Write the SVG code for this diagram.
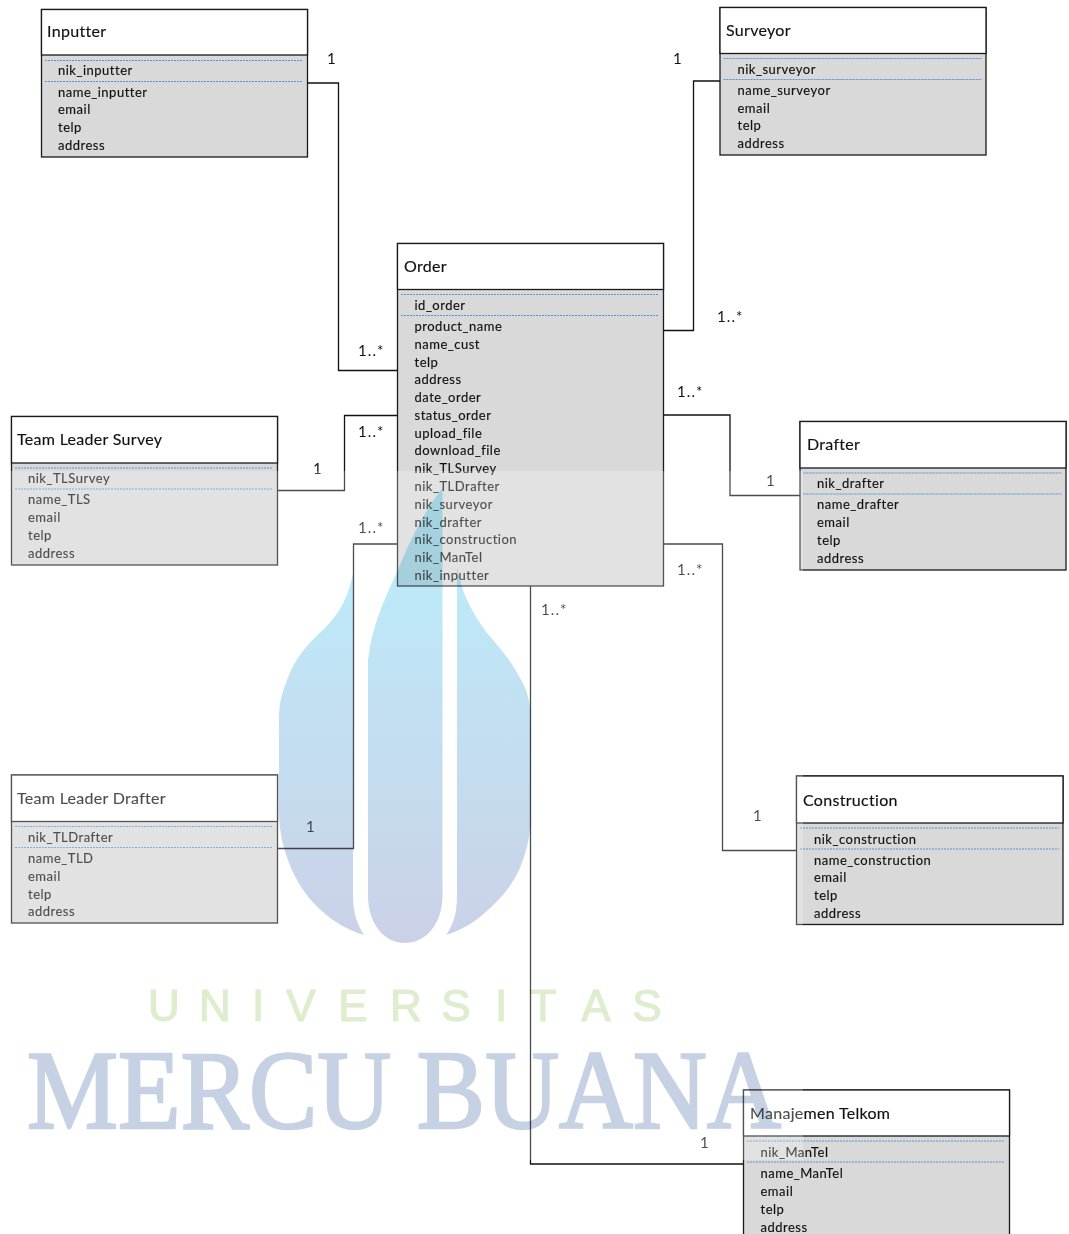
<svg xmlns="http://www.w3.org/2000/svg" width="1069" height="1234" viewBox="0 0 1069 1234">
<style>
text{font-family:"Lato","Liberation Sans",sans-serif;fill:#111}
.t{font-size:16px;letter-spacing:.3px;stroke:#111;stroke-width:.15px}
.f{font-size:13px;letter-spacing:.5px;stroke:#111;stroke-width:.15px}
.l{font-size:15px;letter-spacing:1.1px}
.box{fill:#d9d9d9;stroke:#1a1a1a;stroke-width:1.3}
.hd{fill:#fff;stroke:#1a1a1a;stroke-width:1.3}
.dot{stroke:#4f94dc;stroke-width:1.1;stroke-dasharray:2 1;fill:none}
.c{fill:none;stroke:#111;stroke-width:1.3}
.wm{mix-blend-mode:multiply}
</style>
<defs>
<linearGradient id="fl" gradientUnits="userSpaceOnUse" x1="0" y1="500" x2="0" y2="945">
<stop offset="0" stop-color="#b8effd"/><stop offset=".35" stop-color="#c0e4f5"/><stop offset="1" stop-color="#cbd1e7"/>
</linearGradient>
</defs>
<g id="connectors">
<path class="c" d="M307.5 83H338.5V370.5H397.5"/>
<path class="c" d="M720 81H693.5V330.5H663.5"/>
<path class="c" d="M277.5 490.5H344.5V415.5H397.5"/>
<path class="c" d="M277.5 848.5H353.5V544H397.5"/>
<path class="c" d="M663.5 415H730V495.5H800"/>
<path class="c" d="M663.5 544H722.5V850.5H796.5"/>
<path class="c" d="M530.5 586V1164H743.5"/>
</g>
<g id="labels">
<text class="l" x="327" y="64">1</text>
<text class="l" x="673" y="64">1</text>
<text class="l" x="717" y="322">1..*</text>
<text class="l" x="358" y="356">1..*</text>
<text class="l" x="358" y="437">1..*</text>
<text class="l" x="313" y="474">1</text>
<text class="l" x="358" y="533">1..*</text>
<text class="l" x="677" y="397">1..*</text>
<text class="l" x="766" y="486">1</text>
<text class="l" x="677" y="575">1..*</text>
<text class="l" x="541" y="615">1..*</text>
<text class="l" x="306" y="832">1</text>
<text class="l" x="753" y="821">1</text>
<text class="l" x="700" y="1148">1</text>
</g>
<g id="inputter">
<rect class="box" x="41.5" y="9.5" width="266" height="147.5"/><rect class="hd" x="41.5" y="9.5" width="266" height="45.500"/>
<path class="dot" d="M45 60.500H303M45 81.500H303"/>
<text class="t" x="47" y="37">Inputter</text>
<text class="f" x="58" y="75">nik_inputter</text><text class="f" x="58" y="97">name_inputter</text><text class="f" x="58" y="114">email</text><text class="f" x="58" y="132">telp</text><text class="f" x="58" y="150">address</text>
</g>
<g id="surveyor">
<rect class="box" x="720" y="7.5" width="266" height="147.5"/><rect class="hd" x="720" y="7.5" width="266" height="46"/>
<path class="dot" d="M723.500 58.500H982M723.500 79.500H982"/>
<text class="t" x="726" y="36">Surveyor</text>
<text class="f" x="737.500" y="74">nik_surveyor</text><text class="f" x="737.500" y="95">name_surveyor</text><text class="f" x="737.500" y="113">email</text><text class="f" x="737.500" y="130">telp</text><text class="f" x="737.500" y="148">address</text>
</g>
<g id="order">
<rect class="box" x="397.500" y="243.500" width="266" height="342.500"/><rect class="hd" x="397.500" y="243.500" width="266" height="46"/>
<path class="dot" d="M401 294.500H659M401 315.500H659"/>
<text class="t" x="404" y="272">Order</text>
<text class="f" x="414.500" y="310">id_order</text><text class="f" x="414.500" y="331">product_name</text><text class="f" x="414.500" y="349">name_cust</text><text class="f" x="414.500" y="367">telp</text><text class="f" x="414.500" y="384">address</text><text class="f" x="414.500" y="402">date_order</text><text class="f" x="414.500" y="420">status_order</text><text class="f" x="414.500" y="438">upload_file</text><text class="f" x="414.500" y="455">download_file</text><text class="f" x="414.500" y="473">nik_TLSurvey</text><text class="f" x="414.500" y="491">nik_TLDrafter</text><text class="f" x="414.500" y="509">nik_surveyor</text><text class="f" x="414.500" y="527">nik_drafter</text><text class="f" x="414.500" y="544">nik_construction</text><text class="f" x="414.500" y="562">nik_ManTel</text><text class="f" x="414.500" y="580">nik_inputter</text>
</g>
<g id="team-leader-survey">
<rect class="box" x="11.500" y="416.500" width="266" height="148.500"/><rect class="hd" x="11.500" y="416.500" width="266" height="46.500"/>
<path class="dot" d="M15 468H273M15 489H273"/>
<text class="t" x="17" y="445">Team Leader Survey</text>
<text class="f" x="28" y="483">nik_TLSurvey</text><text class="f" x="28" y="504">name_TLS</text><text class="f" x="28" y="522">email</text><text class="f" x="28" y="540">telp</text><text class="f" x="28" y="558">address</text>
</g>
<g id="team-leader-drafter">
<rect class="box" x="11.500" y="775" width="266" height="148"/><rect class="hd" x="11.500" y="775" width="266" height="46.500"/>
<path class="dot" d="M15 826.500H273M15 847.500H273"/>
<text class="t" x="17" y="804">Team Leader Drafter</text>
<text class="f" x="28" y="842">nik_TLDrafter</text><text class="f" x="28" y="863">name_TLD</text><text class="f" x="28" y="881">email</text><text class="f" x="28" y="899">telp</text><text class="f" x="28" y="916">address</text>
</g>
<g id="drafter">
<rect class="box" x="800" y="421.500" width="266" height="148.500"/><rect class="hd" x="800" y="421.500" width="266" height="46.500"/>
<path class="dot" d="M803.500 473H1062M803.500 494H1062"/>
<text class="t" x="807" y="450">Drafter</text>
<text class="f" x="817" y="488">nik_drafter</text><text class="f" x="817" y="509">name_drafter</text><text class="f" x="817" y="527">email</text><text class="f" x="817" y="545">telp</text><text class="f" x="817" y="563">address</text>
</g>
<g id="construction">
<rect class="box" x="796.500" y="776" width="266.500" height="148.500"/><rect class="hd" x="796.500" y="776" width="266.500" height="47"/>
<path class="dot" d="M800 828H1059M800 849H1059"/>
<text class="t" x="803" y="806">Construction</text>
<text class="f" x="814" y="844">nik_construction</text><text class="f" x="814" y="865">name_construction</text><text class="f" x="814" y="882">email</text><text class="f" x="814" y="900">telp</text><text class="f" x="814" y="918">address</text>
</g>
<g id="manajemen-telkom">
<rect class="box" x="743.500" y="1090" width="266" height="160"/><rect class="hd" x="743.500" y="1090" width="266" height="46"/>
<path class="dot" d="M747 1141H1005M747 1162H1005"/>
<text class="t" x="750" y="1119">Manajemen Telkom</text>
<text class="f" x="760.500" y="1157">nik_ManTel</text><text class="f" x="760.500" y="1178">name_ManTel</text><text class="f" x="760.500" y="1196">email</text><text class="f" x="760.500" y="1214">telp</text><text class="f" x="760.500" y="1232">address</text>
</g>
<g id="watermark">
<rect x="0" y="471" width="803" height="689" fill="#fff" fill-opacity=".25"/>
<g class="wm" fill="url(#fl)">
<path d="M353 573C348 600 338 615 323 630C306 645 294 660 287 680C281 695 279 705 279 720V810C279 835 284 850 291 868C300 888 312 905 333 920C343 927 354 932 364 935C358 925 353 915 353 895Z"/>
<path d="M442.500 488C425 510 410 540 397 572C385 598 372 625 368 660V895C368 925 385 943 405 943C425 943 442.500 925 442.500 895Z"/>
<path d="M457 567C461 590 470 610 487 633C500 648 515 665 526 690C530 702 531 712 531 725V810C531 835 527 850 520 868C510 890 495 905 476 920C466 927 456 932 446 935C453 925 457 915 457 895Z"/>
</g>
<text class="wm" font-size="44" style="font-family:'Liberation Sans',sans-serif;fill:#dfedcf;stroke:#dfedcf;stroke-width:1.2px" text-anchor="middle" y="1021" x="164 215 258 301 353 406 456 501 543 596 647">UNIVERSITAS</text>
<text class="wm" font-size="113" style="font-family:'Liberation Serif',serif;fill:#c6d1e4;stroke:#c6d1e4;stroke-width:2.5px" x="27" y="1128" textLength="754" lengthAdjust="spacingAndGlyphs">MERCU BUANA</text>
</g>
</svg>
